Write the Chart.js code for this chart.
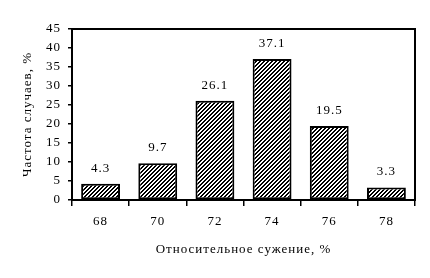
<!DOCTYPE html>
<html>
<head>
<meta charset="utf-8">
<script src="https://cdn.jsdelivr.net/npm/chart.js@4"></script>
<style>
  html, body { margin: 0; padding: 0; background: #fff; }
  #wrap { width: 430px; height: 278px; }
</style>
</head>
<body>
<div id="wrap"><canvas id="grafico" width="430" height="278"></canvas></div>
<script>
// данные с рисунка
var categorias = ["68", "70", "72", "74", "76", "78"];
var valores = [4.3, 9.7, 26.1, 37.1, 19.5, 3.3];
var rotulos = ["4.3", "9.7", "26.1", "37.1", "19.5", "3.3"];

var fonte = "'Liberation Serif', 'Times New Roman', serif";

// штриховка "/" попиксельно
function criarHachura() {
    var c = document.createElement("canvas");
    c.width = 4; c.height = 4;
    var g = c.getContext("2d");
    g.fillStyle = "#fff";
    g.fillRect(0, 0, 4, 4);
    g.fillStyle = "#000";
    for (var x = 0; x < 4; x++) {
        for (var y = 0; y < 4; y++) {
            var k = (x + y) % 4;
            if (k === 0 || k === 1) g.fillRect(x, y, 1, 1);
        }
    }
    return grafico.getContext("2d").createPattern(c, "repeat");
}

var moldura = {
    id: "moldura",
    beforeDraw: function (chart) {
        chart.ctx.letterSpacing = "1px";
    },
    afterDraw: function (chart) {
        var a = chart.chartArea, ctx = chart.ctx;
        ctx.save();
        ctx.strokeStyle = "#000";
        ctx.lineWidth = 2;
        ctx.strokeRect(a.left, a.top, a.right - a.left, a.bottom - a.top);
        ctx.restore();
    },
    afterDatasetsDraw: function (chart) {
        var ctx = chart.ctx;
        var meta = chart.getDatasetMeta(0);
        ctx.save();
        ctx.font = "13px " + fonte;
        ctx.fillStyle = "#000";
        ctx.textAlign = "center";
        ctx.textBaseline = "bottom";
        meta.data.forEach(function (bar, i) {
            ctx.fillText(rotulos[i], bar.x, bar.y - 9);
        });
        ctx.restore();
    }
};

new Chart(grafico.getContext("2d"), {
    type: "bar",
    data: {
        labels: categorias,
        datasets: [{
            data: valores,
            backgroundColor: criarHachura(),
            borderColor: "#000",
            borderWidth: 2,
            borderSkipped: false,
            categoryPercentage: 1,
            barPercentage: 0.68
        }]
    },
    options: {
        responsive: false,
        animation: false,
        layout: { padding: { left: 0, right: 15, top: 29, bottom: 0 } },
        scales: {
            x: {
                grid: { display: true, drawOnChartArea: false, offset: true, color: "#000", lineWidth: 1.5, tickLength: 6 },
                border: { color: "#000", width: 2 },
                ticks: { color: "#000", font: { family: fonte, size: 13 }, padding: 8 },
                title: { display: true, text: "Относительное сужение, %", color: "#000", font: { family: fonte, size: 13 }, padding: { top: 4, bottom: 21 } },
                afterFit: function (s) { s.height = 78; }
            },
            y: {
                min: 0, max: 45,
                grid: { display: true, drawOnChartArea: false, color: "#000", lineWidth: 1.5, tickLength: 4 },
                border: { color: "#000", width: 2 },
                ticks: { stepSize: 5, color: "#000", font: { family: fonte, size: 13 }, padding: 7 },
                title: { display: true, text: "Частота случаев, %", color: "#000", font: { family: fonte, size: 13 }, padding: { top: 20, bottom: 4 } },
                afterFit: function (s) { s.width = 72; }
            }
        },
        plugins: {
            legend: { display: false },
            tooltip: { enabled: false }
        }
    },
    plugins: [moldura]
});
</script>
</body>
</html>
